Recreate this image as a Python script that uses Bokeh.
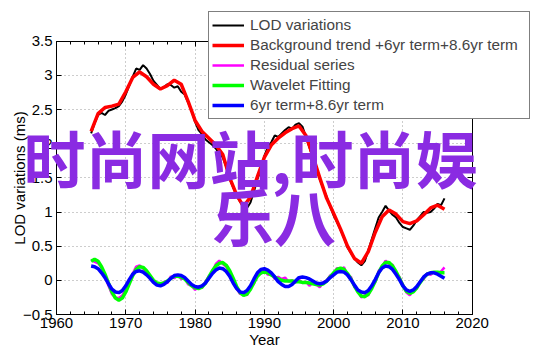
import numpy as np
from bokeh.plotting import figure
from bokeh.models import (Range1d, SingleIntervalTicker, LinearAxis, Legend, LegendItem,
                          Label, Grid, CustomJSTickFormatter)
from bokeh.embed import file_html
from bokeh.resources import INLINE

# ---------------- data ----------------
years_red = list(range(1965, 2017))
background_trend = [2.18, 2.44, 2.53, 2.55, 2.58,
                    2.76, 2.97, 3.05, 2.98, 2.87,
                    2.80, 2.85, 2.93, 2.87, 2.62,
                    2.34, 2.18, 2.08, 1.98, 1.84,
                    1.50, 1.25, 1.08, 1.22, 1.52,
                    1.80, 1.98, 2.08, 2.16, 2.22,
                    2.26, 2.12, 1.82, 1.50, 1.20,
                    0.98, 0.75, 0.50, 0.32, 0.25,
                    0.42, 0.70, 0.93, 1.03, 0.97,
                    0.86, 0.83, 0.87, 0.96, 1.06,
                    1.10, 1.04]

years_half = [1965 + 0.5 * i for i in range(103)]
lod_variations = [2.15, 2.30, 2.42, 2.45, 2.42, 2.48, 2.50, 2.52, 2.55, 2.62,
                  2.72, 2.85, 2.98, 3.10, 3.08, 3.15, 3.10, 3.02, 2.92, 2.86,
                  2.80, 2.83, 2.87, 2.86, 2.82, 2.84, 2.76, 2.72, 2.60, 2.48,
                  2.32, 2.20, 2.14, 2.06, 2.02, 1.98, 1.93, 1.85, 1.80, 1.66,
                  1.48, 1.36, 1.24, 1.15, 1.08, 1.06, 1.14, 1.30, 1.48, 1.62,
                  1.82, 1.95, 2.02, 2.12, 2.10, 2.15, 2.20, 2.24, 2.22, 2.28,
                  2.30, 2.25, 2.10, 1.95, 1.78, 1.62, 1.48, 1.35, 1.22, 1.08,
                  0.95, 0.85, 0.74, 0.62, 0.48, 0.40, 0.32, 0.26, 0.22, 0.28,
                  0.44, 0.60, 0.76, 0.92, 1.00, 1.09, 1.02, 0.96, 0.92, 0.84,
                  0.78, 0.76, 0.74, 0.80, 0.88, 0.94, 1.00, 0.99, 1.00, 1.05,
                  1.12, 1.10, 1.20]

residual_series = [0.30, 0.27, 0.25, 0.19, 0.06, -0.08, -0.20, -0.25, -0.26, -0.22,
                   -0.13, -0.02, 0.10, 0.20, 0.22, 0.17, 0.12, 0.06, -0.02, -0.05,
                   -0.08, -0.02, -0.04, 0.06, 0.03, 0.08, 0.02, 0.04, -0.06, -0.08,
                   -0.14, -0.09, -0.11, -0.02, 0.06, 0.13, 0.24, 0.29, 0.24, 0.20,
                   0.12, 0.02, -0.12, -0.20, -0.18, -0.22, -0.10, -0.05, 0.08, 0.10,
                   0.15, 0.08, 0.10, 0.02, 0.05, 0.02, 0.04, -0.02, 0.00, -0.03,
                   0.01, -0.04, -0.02, -0.08, -0.03, -0.06, -0.10, -0.03, 0.00, 0.07,
                   0.10, 0.18, 0.15, 0.19, 0.07, 0.05, -0.10, -0.15, -0.25, -0.22,
                   -0.22, -0.09, -0.03, 0.14, 0.20, 0.29, 0.24, 0.23, 0.10, 0.05,
                   -0.06, -0.18, -0.22, -0.14, -0.12, -0.01, 0.02, 0.10, 0.08, 0.12,
                   0.10, 0.13, 0.19]

wavelet_fitting = [0.28, 0.31, 0.28, 0.20, 0.09, -0.04, -0.17, -0.26, -0.29, -0.26,
                   -0.17, -0.05, 0.07, 0.16, 0.20, 0.19, 0.14, 0.07, 0.00, -0.04,
                   -0.05, -0.04, -0.01, 0.03, 0.06, 0.06, 0.05, 0.02, -0.03, -0.08,
                   -0.11, -0.12, -0.10, -0.04, 0.05, 0.14, 0.21, 0.25, 0.26, 0.22,
                   0.14, 0.03, -0.09, -0.18, -0.22, -0.20, -0.13, -0.03, 0.06, 0.11,
                   0.12, 0.11, 0.08, 0.05, 0.02, 0.00, -0.01, -0.01, -0.01, -0.02,
                   -0.02, -0.03, -0.03, -0.04, -0.05, -0.06, -0.07, -0.05, -0.01, 0.05,
                   0.11, 0.16, 0.18, 0.16, 0.10, 0.02, -0.08, -0.17, -0.23, -0.24,
                   -0.20, -0.12, -0.01, 0.11, 0.21, 0.26, 0.26, 0.21, 0.13, 0.03,
                   -0.08, -0.16, -0.19, -0.17, -0.11, -0.03, 0.04, 0.09, 0.11, 0.12,
                   0.12, 0.11, 0.11]

six_plus_86_term = [0.21, 0.20, 0.17, 0.11, 0.04, -0.05, -0.13, -0.17, -0.18, -0.15,
                    -0.08, 0.01, 0.09, 0.13, 0.14, 0.12, 0.08, 0.03, -0.03, -0.07,
                    -0.08, -0.06, -0.02, 0.03, 0.07, 0.08, 0.07, 0.04, -0.01, -0.06,
                    -0.09, -0.10, -0.08, -0.04, 0.03, 0.10, 0.15, 0.18, 0.17, 0.13,
                    0.06, -0.04, -0.12, -0.17, -0.18, -0.15, -0.08, 0.02, 0.11, 0.16,
                    0.17, 0.15, 0.11, 0.05, -0.02, -0.06, -0.09, -0.09, -0.06, -0.01,
                    0.04, 0.05, 0.04, 0.02, -0.01, -0.04, -0.05, -0.04, -0.01, 0.04,
                    0.08, 0.12, 0.13, 0.12, 0.08, 0.01, -0.07, -0.14, -0.17, -0.18,
                    -0.15, -0.08, 0.01, 0.11, 0.18, 0.21, 0.20, 0.16, 0.09, 0.01,
                    -0.08, -0.14, -0.16, -0.14, -0.09, -0.02, 0.05, 0.09, 0.11, 0.11,
                    0.09, 0.06, 0.03]

x_min, x_max = 1960, 2020
y_min, y_max = -0.5, 3.5
ytick_values = [-0.5, 0, 0.5, 1, 1.5, 2, 2.5, 3, 3.5]
ytick_labels = ["\u22120.5", "0", "0.5", "1", "1.5", "2", "2.5", "3", "3.5"]

legend_labels = ["LOD variations", "Background trend +6yr term+8.6yr term",
                 "Residual series", "Wavelet Fitting", "6yr term+8.6yr term"]
watermark_lines = ["时尚网站,时尚娱", "乐八"]

# ---------------- layout (pixel box of the axes inside the 542x356 page) ----------------
W, H = 542, 356
BOX_L, BOX_R, BOX_T, BOX_B = 56.0, 471.7, 40.7, 314.0
sx = (x_max - x_min) / (BOX_R - BOX_L)
sy = (y_max - y_min) / (BOX_B - BOX_T)
xr = Range1d(x_min - BOX_L * sx, x_max + (W - BOX_R) * sx)
yr = Range1d(y_min - (H - BOX_B) * sy, y_max + BOX_T * sy)

FONT = "Liberation Sans"
p = figure(width=W, height=H, output_backend="svg", toolbar_location=None,
           x_range=xr, y_range=yr,
           min_border_left=0, min_border_right=0, min_border_top=0, min_border_bottom=0,
           x_axis_label="Year", y_axis_label="LOD variations (ms)")
p.background_fill_color = "white"
p.border_fill_color = "white"
p.outline_line_color = None

xt = SingleIntervalTicker(interval=10, num_minor_ticks=5)
yt = SingleIntervalTicker(interval=0.5, num_minor_ticks=0)

def style_axis(ax, tk):
    ax.ticker = tk
    ax.major_tick_in = 5
    ax.major_tick_out = 0
    ax.minor_tick_in = 3
    ax.minor_tick_out = 0
    ax.axis_line_color = "black"
    ax.major_tick_line_color = "black"
    ax.minor_tick_line_color = "black"
    ax.major_label_text_font = FONT
    ax.major_label_text_font_size = "15px"
    ax.major_label_text_color = "black"
    ax.axis_label_text_font = FONT
    ax.axis_label_text_font_size = "15px"
    ax.axis_label_text_font_style = "normal"
    ax.axis_label_text_color = "black"

xa = p.xaxis[0]
ya = p.yaxis[0]
style_axis(xa, xt)
style_axis(ya, yt)
xa.fixed_location = y_min
xa.bounds = (x_min, x_max)
ya.fixed_location = x_min
ya.bounds = (y_min, y_max)
ya.minor_tick_line_color = None
ya.major_label_overrides = {v: s for v, s in zip(ytick_values, ytick_labels)}
ya.major_label_standoff = 4
xa.major_label_standoff = 3
ya.axis_label_standoff = -8
xa.axis_label_standoff = 0

blank = CustomJSTickFormatter(code="return ''")
top = LinearAxis(fixed_location=y_max, bounds=(x_min, x_max), formatter=blank)
right = LinearAxis(fixed_location=x_max, bounds=(y_min, y_max), formatter=blank)
style_axis(top, SingleIntervalTicker(interval=10, num_minor_ticks=5))
style_axis(right, SingleIntervalTicker(interval=0.5, num_minor_ticks=0))
right.minor_tick_line_color = None
p.add_layout(top, "above")
p.add_layout(right, "right")

has_cross = "cross_bounds" in Grid.properties()
for g, b, cb in ((p.xgrid[0], (x_min, x_max), (y_min, y_max)),
                 (p.ygrid[0], (y_min, y_max), (x_min, x_max))):
    g.grid_line_color = "#9a9a9a"
    g.grid_line_dash = "1 3"
    g.grid_line_width = 1
    g.bounds = b
    if has_cross:
        g.cross_bounds = cb
p.xgrid[0].ticker = xt
p.ygrid[0].ticker = yt

r_lod = p.line(years_half, lod_variations, line_color="black", line_width=2)
r_bg = p.line(years_red, background_trend, line_color="#FF0000", line_width=3.5)
r_res = p.line(years_half, residual_series, line_color="#FF00FF", line_width=2.5)
r_wav = p.line(years_half, wavelet_fitting, line_color="#00FF00", line_width=3.5)
r_six = p.line(years_half, six_plus_86_term, line_color="#0000FF", line_width=3.5)

legend = Legend(items=[LegendItem(label=l, renderers=[r]) for l, r in
                       zip(legend_labels, [r_lod, r_bg, r_res, r_wav, r_six])],
                location=(208, 237), label_text_font=FONT, label_text_font_size="15.3px",
                label_height=20, glyph_height=20, glyph_width=32, spacing=0,
                padding=3, margin=0, label_standoff=6, label_width=276,
                border_line_color="black", border_line_width=1,
                background_fill_color="white", background_fill_alpha=1)
p.add_layout(legend, "center")

wm_pos = [(1988.0, 1.80), (1991.4, 0.96)]
for txt, (wx, wy) in zip(watermark_lines, wm_pos):
    p.add_layout(Label(x=wx, y=wy, text=txt, text_font="Noto Sans CJK SC",
                       text_font_size="62px", text_font_style="bold",
                       text_color="#8A2BE2", text_align="center", text_baseline="middle"))

open("out.html", "w").write(file_html(p, INLINE))
